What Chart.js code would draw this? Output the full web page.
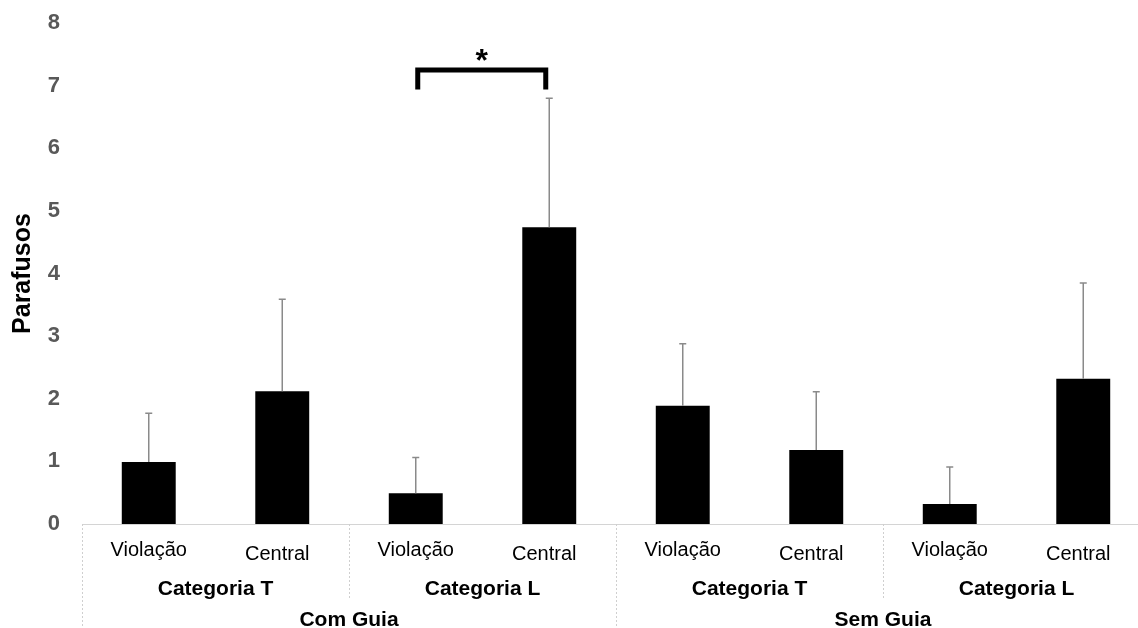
<!DOCTYPE html>
<html>
<head>
<meta charset="utf-8">
<script src="https://cdn.jsdelivr.net/npm/chart.js@4/dist/chart.umd.min.js"></script>
<style>
  html, body { margin: 0; padding: 0; background: #fff; overflow: hidden; }
  #wrap { width: 1138px; height: 628px; overflow: hidden; position: relative; }
  canvas { display: block; }
</style>
</head>
<body>
<div id="wrap"><canvas id="c" width="1150" height="628"></canvas></div>
<script>
// Conditions (one bar each), grouped by screw category, then by guide use
const conditions = ['Violação', 'Central', 'Violação', 'Central', 'Violação', 'Central', 'Violação', 'Central'];
const categoryGroups = ['Categoria T', 'Categoria L', 'Categoria T', 'Categoria L'];
const guideGroups = ['Com Guia', 'Sem Guia'];

// Mean number of screws and the upper error (SD)
const means = [0.99, 2.12, 0.49, 4.74, 1.89, 1.18, 0.32, 2.32];
const sdUpper = [0.78, 1.47, 0.57, 2.06, 0.99, 0.93, 0.59, 1.53];

const yTicks = [0, 1, 2, 3, 4, 5, 6, 7, 8];

// Significant comparison: bar indices, marker, bracket level and leg length
const sigFrom = 2;
const sigTo = 3;
const sigMark = '*';
const sigLevel = 7.25;
const sigLeg = 0.31;

const FONT = "'Liberation Sans', Arial, Helvetica, sans-serif";

const errorBars = {
  id: 'errorBars',
  afterDatasetsDraw(chart) {
    const { ctx, scales: { x, y } } = chart;
    ctx.save();
    ctx.strokeStyle = '#8a8a8a';
    ctx.lineWidth = 1.5;
    means.forEach((m, i) => {
      const cx = x.getPixelForValue(i);
      const yTop = y.getPixelForValue(m + sdUpper[i]);
      const yBar = y.getPixelForValue(m);
      ctx.beginPath();
      ctx.moveTo(cx, yBar);
      ctx.lineTo(cx, yTop);
      ctx.moveTo(cx - 3.5, yTop);
      ctx.lineTo(cx + 3.5, yTop);
      ctx.stroke();
    });
    ctx.restore();
  }
};

const sigBracket = {
  id: 'sigBracket',
  afterDatasetsDraw(chart) {
    const { ctx, scales: { x, y } } = chart;
    const x1 = x.getPixelForValue(sigFrom) + 2;
    const x2 = x.getPixelForValue(sigTo) - 3.5;
    const yTop = y.getPixelForValue(sigLevel);
    const yLeg = y.getPixelForValue(sigLevel - sigLeg);
    ctx.save();
    ctx.strokeStyle = '#000';
    ctx.lineWidth = 5;
    ctx.lineJoin = 'miter';
    ctx.beginPath();
    ctx.moveTo(x1, yLeg);
    ctx.lineTo(x1, yTop);
    ctx.lineTo(x2, yTop);
    ctx.lineTo(x2, yLeg);
    ctx.stroke();
    ctx.fillStyle = '#000';
    ctx.font = 'bold 32px ' + FONT;
    ctx.textAlign = 'center';
    ctx.textBaseline = 'alphabetic';
    ctx.fillText(sigMark, (x1 + x2) / 2, yTop + 1);
    ctx.restore();
  }
};

// Three-level category axis: condition, screw category, guide
const groupedAxis = {
  id: 'groupedAxis',
  afterDraw(chart) {
    const { ctx, scales: { x } } = chart;
    const n = conditions.length;
    const step = (x.right - x.left) / n;
    const top = x.top;
    const edge = (i) => x.left + step * i;
    ctx.save();

    // separators
    ctx.strokeStyle = '#cfcfcf';
    ctx.lineWidth = 1;
    ctx.setLineDash([2, 2]);
    const perCat = n / categoryGroups.length;
    const perGuide = n / guideGroups.length;
    for (let i = 0; i <= n; i += perCat) {
      const full = i % perGuide === 0;
      const px = Math.round(edge(i)) + 0.5;
      ctx.beginPath();
      ctx.moveTo(px, top);
      ctx.lineTo(px, full ? chart.height : top + 74);
      ctx.stroke();
    }
    ctx.setLineDash([]);

    ctx.fillStyle = '#000';
    ctx.textAlign = 'center';
    ctx.textBaseline = 'alphabetic';

    ctx.font = '20px ' + FONT;
    conditions.forEach((label, i) => {
      const cx = x.getPixelForValue(i);
      const odd = i % 2 === 1;
      ctx.fillText(label, cx - (odd ? 5 : 0), top + (odd ? 36 : 32));
    });

    ctx.font = 'bold 21px ' + FONT;
    categoryGroups.forEach((label, g) => {
      const cx = (edge(g * perCat) + edge((g + 1) * perCat)) / 2;
      ctx.fillText(label, cx, top + 71);
    });
    guideGroups.forEach((label, g) => {
      const cx = (edge(g * perGuide) + edge((g + 1) * perGuide)) / 2;
      ctx.fillText(label, cx, top + 102);
    });
    ctx.restore();
  }
};

new Chart(document.getElementById('c'), {
  type: 'bar',
  data: {
    labels: conditions,
    datasets: [{
      data: means,
      backgroundColor: '#000',
      borderWidth: 0,
      categoryPercentage: 1,
      barPercentage: 0.404
    }]
  },
  options: {
    responsive: false,
    animation: false,
    devicePixelRatio: 1,
    layout: { padding: { top: 23, left: 0, right: 0, bottom: 0 } },
    plugins: {
      legend: { display: false },
      tooltip: { enabled: false }
    },
    scales: {
      x: {
        type: 'category',
        grid: { display: false, drawTicks: false },
        border: { display: true, color: '#d4d4d4', width: 1, dash: [2, 1] },
        ticks: { display: false },
        afterFit(scale) { scale.height = 104; }
      },
      y: {
        min: 0,
        max: 8,
        grid: { display: false, drawTicks: false },
        border: { display: false },
        afterBuildTicks(scale) { scale.ticks = yTicks.map(v => ({ value: v })); },
        ticks: {
          padding: 22,
          color: '#595959',
          font: { family: FONT, size: 22, weight: 'bold' }
        },
        title: {
          display: true,
          text: 'Parafusos',
          color: '#000',
          padding: { top: 8, bottom: 0 },
          font: { family: FONT, size: 25, weight: 'bold' }
        },
        afterFit(scale) {
          scale.width = 82;
          scale.paddingTop = 0;
          scale.paddingBottom = 0;
        }
      }
    }
  },
  plugins: [errorBars, sigBracket, groupedAxis]
});
</script>
</body>
</html>
